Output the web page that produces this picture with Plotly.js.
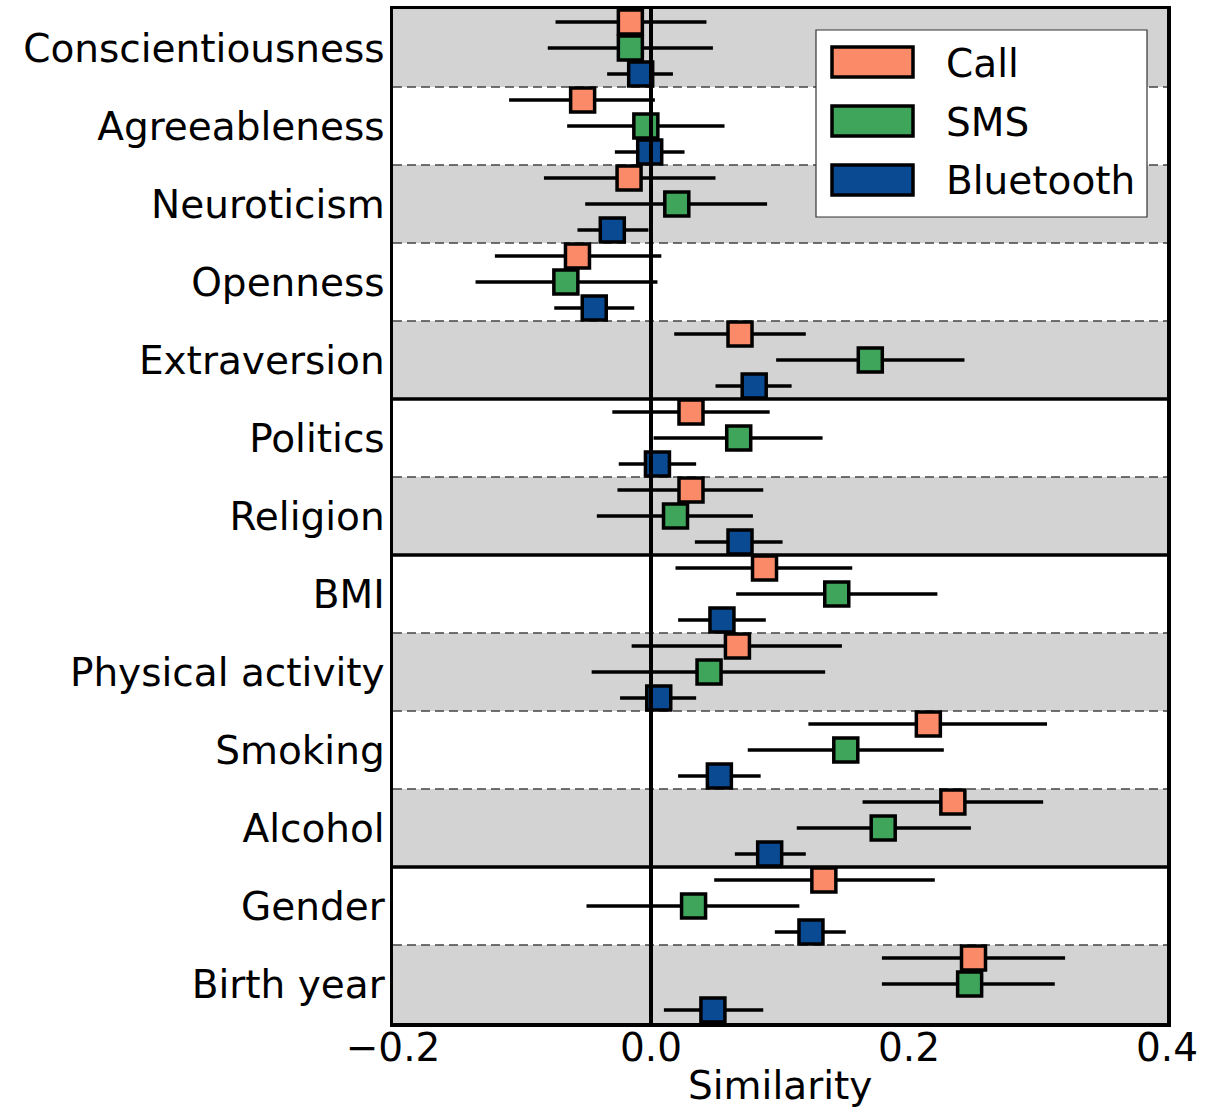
<!DOCTYPE html>
<html>
<head>
<meta charset="utf-8">
<script src="https://cdn.plot.ly/plotly-3.0.1.min.js"></script>
<style>
  html, body { margin: 0; padding: 0; background: #ffffff; }
  #chart { width: 1216px; height: 1111px; }
</style>
</head>
<body>
<div id="chart"></div>
<script>
// ---- Data ----
var categories = ["Conscientiousness", "Agreeableness", "Neuroticism", "Openness", "Extraversion",
                  "Politics", "Religion", "BMI", "Physical activity", "Smoking", "Alcohol",
                  "Gender", "Birth year"];

var seriesNames = ["Call", "SMS", "Bluetooth"];

var callMean = [-0.016, -0.053, -0.017, -0.057, 0.069, 0.031, 0.031, 0.088, 0.067, 0.215, 0.234, 0.134, 0.250];
var callLow  = [-0.074, -0.110, -0.083, -0.121, 0.018, -0.030, -0.026, 0.019, -0.015, 0.122, 0.164, 0.049, 0.179];
var callHigh = [0.043, 0.003, 0.050, 0.008, 0.120, 0.092, 0.087, 0.156, 0.148, 0.307, 0.304, 0.220, 0.321];

var smsMean = [-0.016, -0.004, 0.020, -0.066, 0.170, 0.068, 0.019, 0.144, 0.045, 0.151, 0.180, 0.033, 0.247];
var smsLow  = [-0.080, -0.065, -0.051, -0.136, 0.097, 0.002, -0.042, 0.066, -0.046, 0.075, 0.113, -0.050, 0.179];
var smsHigh = [0.048, 0.057, 0.090, 0.005, 0.243, 0.133, 0.079, 0.222, 0.135, 0.227, 0.248, 0.115, 0.313];

var btMean = [-0.008, -0.001, -0.030, -0.044, 0.080, 0.005, 0.069, 0.055, 0.006, 0.053, 0.092, 0.124, 0.048];
var btLow  = [-0.034, -0.028, -0.057, -0.075, 0.050, -0.025, 0.034, 0.021, -0.024, 0.021, 0.065, 0.096, 0.010];
var btHigh = [0.017, 0.026, -0.002, -0.013, 0.109, 0.035, 0.102, 0.089, 0.035, 0.085, 0.120, 0.151, 0.087];

var xTickVals = [-0.2, 0.0, 0.2, 0.4];
var xTickText = ["\u22120.2", "0.0", "0.2", "0.4"];
var xTitle = "Similarity";

// group boundaries (solid lines) after these category indices
var groupEnds = [4, 6, 10];

// ---- Styling ----
var colors = ["#fb8a68", "#3fa55a", "#0a4a92"];
var offsets = [-1 / 3, 0, 1 / 3];
var FONT = "DejaVu Sans, Liberation Sans, sans-serif";
var FS = 39;

var means = [callMean, smsMean, btMean];
var lows = [callLow, smsLow, btLow];
var highs = [callHigh, smsHigh, btHigh];

var traces = [];
for (var s = 0; s < 3; s++) {
  var m = means[s], lo = lows[s], hi = highs[s];
  traces.push({
    type: "scatter",
    mode: "markers",
    name: seriesNames[s],
    x: m,
    y: categories.map(function (c, i) { return i + offsets[s]; }),
    error_x: {
      type: "data",
      symmetric: false,
      array: m.map(function (v, i) { return hi[i] - v; }),
      arrayminus: m.map(function (v, i) { return v - lo[i]; }),
      color: "#000000",
      thickness: 3.5,
      width: 0
    },
    marker: {
      symbol: "square",
      size: 24,
      color: colors[s],
      line: { color: "#000000", width: 3.5 }
    },
    showlegend: false,
    hoverinfo: "skip"
  });
}

var shapes = [];
// alternating row shading
categories.forEach(function (c, i) {
  if (i % 2 === 0) {
    shapes.push({
      type: "rect", layer: "below", xref: "paper", yref: "y",
      x0: 0, x1: 1, y0: i - 0.5, y1: i + 0.5,
      fillcolor: "#d3d3d3", line: { width: 0 }
    });
  }
});
// separators
for (var b = 0; b < categories.length - 1; b++) {
  var solid = groupEnds.indexOf(b) >= 0;
  shapes.push({
    type: "line", layer: solid ? "above" : "below", xref: "paper", yref: "y",
    x0: 0, x1: 1, y0: b + 0.5, y1: b + 0.5,
    line: solid ? { color: "#000000", width: 3.5 } : { color: "#444444", width: 1.5, dash: "9px,5px" }
  });
}
// zero line
shapes.push({
  type: "line", layer: "above", xref: "x", yref: "paper",
  x0: 0, x1: 0, y0: 0, y1: 1,
  line: { color: "#000000", width: 4 }
});

// custom legend (rectangle patches like the reference)
function px2x(px) { return (px - 393) / 774; }
function px2y(py) { return (1023 - py) / 1014; }
shapes.push({
  type: "rect", layer: "above", xref: "paper", yref: "paper",
  x0: px2x(816), x1: px2x(1147), y0: px2y(217), y1: px2y(30),
  fillcolor: "#ffffff", line: { color: "#333333", width: 1.2 }
});
var annotations = [];
var patchTop = [47, 106, 165];
for (var k = 0; k < 3; k++) {
  shapes.push({
    type: "rect", layer: "above", xref: "paper", yref: "paper",
    x0: px2x(832), x1: px2x(913), y0: px2y(patchTop[k] + 30), y1: px2y(patchTop[k]),
    fillcolor: colors[k], line: { color: "#000000", width: 3.5 }
  });
  annotations.push({
    xref: "paper", yref: "paper",
    x: px2x(944), y: px2y(patchTop[k] + 16),
    xanchor: "left", yanchor: "middle",
    text: seriesNames[k], showarrow: false,
    font: { family: FONT, size: FS, color: "#000000" }
  });
}
// x-axis title
annotations.push({
  xref: "paper", yref: "paper",
  x: 0.5, y: px2y(1085),
  xanchor: "center", yanchor: "middle",
  text: xTitle, showarrow: false,
  font: { family: FONT, size: FS, color: "#000000" }
});

var layout = {
  width: 1216,
  height: 1111,
  margin: { l: 393, r: 49, t: 9, b: 88, pad: 0 },
  paper_bgcolor: "#ffffff",
  plot_bgcolor: "#ffffff",
  font: { family: FONT, size: FS, color: "#000000" },
  showlegend: false,
  xaxis: {
    range: [-0.2, 0.4],
    tickmode: "array",
    tickvals: xTickVals,
    ticktext: xTickText,
    showgrid: false,
    zeroline: false,
    showline: true,
    mirror: true,
    linecolor: "#000000",
    linewidth: 3.5,
    ticks: "",
    ticklen: 0,
    ticklabelstandoff: -12,
    tickfont: { family: FONT, size: FS, color: "#000000" },
    automargin: false,
    fixedrange: true
  },
  yaxis: {
    range: [categories.length - 0.5, -0.5],
    tickmode: "array",
    tickvals: categories.map(function (c, i) { return i; }),
    ticktext: categories,
    showgrid: false,
    zeroline: false,
    showline: true,
    mirror: true,
    linecolor: "#000000",
    linewidth: 3.5,
    ticks: "",
    ticklen: 0,
    ticklabelstandoff: -3,
    tickfont: { family: FONT, size: FS, color: "#000000" },
    automargin: false,
    fixedrange: true
  },
  shapes: shapes,
  annotations: annotations
};

Plotly.newPlot("chart", traces, layout, { displayModeBar: false, staticPlot: true });
</script>
</body>
</html>
